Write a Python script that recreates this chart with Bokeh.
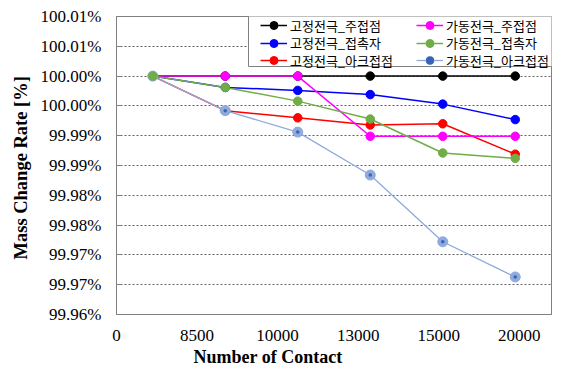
from bokeh.plotting import figure
from bokeh.models import Range1d, FixedTicker, Legend, LegendItem, Title, BoxAnnotation
from bokeh.embed import file_html
from bokeh.resources import INLINE

# ---- data ----
contacts = ["0", "8500", "10000", "13000", "15000", "20000"]
series_names = ["고정전극_주접점", "고정전극_접촉자", "고정전극_아크접점",
                "가동전극_주접점", "가동전극_접촉자", "가동전극_아크접점"]
fixed_main = [100.000, 100.000, 100.000, 100.000, 100.000, 100.000]
fixed_contactor = [100.000, 99.9981, 99.9976, 99.9969, 99.9953, 99.9927]
fixed_arc = [100.000, 99.9942, 99.9930, 99.9918, 99.9920, 99.9869]
moving_main = [100.000, 100.000, 100.000, 99.9899, 99.9899, 99.9899]
moving_contactor = [100.000, 99.9981, 99.9958, 99.9928, 99.9871, 99.9862]
moving_arc = [100.000, 99.9942, 99.9906, 99.9834, 99.9722, 99.9663]
y_tick_labels = ["99.96%", "99.97%", "99.97%", "99.98%", "99.98%", "99.99%",
                 "99.99%", "100.00%", "100.00%", "100.01%", "100.01%"]

# category positions (points sit in the middle of each category slot)
xs = [i + 0.5 for i in range(len(contacts))]
x_ticks = [i * 10 / 9 for i in range(len(contacts))]
y_ticks = [round(99.96 + 0.005 * i, 3) for i in range(len(y_tick_labels))]

SERIF = "Liberation Serif"
KR = "Noto Sans CJK KR"
GRAY = "#808080"

p = figure(width=566, height=380, output_backend="svg", toolbar_location=None,
           x_range=Range1d(0, 6), y_range=Range1d(99.96, 100.01),
           min_border_left=116, min_border_right=15, min_border_top=16, min_border_bottom=66)
p.background_fill_color = "white"
p.border_fill_color = "white"
p.outline_line_color = GRAY
p.outline_line_width = 1

# grids
p.xgrid.grid_line_color = None
p.ygrid.ticker = FixedTicker(ticks=y_ticks)
p.ygrid.grid_line_color = "#606060"
p.ygrid.grid_line_dash = "2 2"
p.ygrid.grid_line_width = 1

# axes
p.xaxis.ticker = FixedTicker(ticks=x_ticks)
p.xaxis.major_label_overrides = {t: lab for t, lab in zip(x_ticks, contacts)}
p.xaxis.major_tick_line_color = None
p.xaxis.minor_tick_line_color = None
p.xaxis.axis_line_color = GRAY
p.xaxis.major_label_text_font = SERIF
p.xaxis.major_label_text_font_size = "17px"
p.xaxis.major_label_text_color = "#000000"
p.xaxis.major_label_standoff = 9

p.yaxis.ticker = FixedTicker(ticks=y_ticks)
p.yaxis.major_label_overrides = {t: lab for t, lab in zip(y_ticks, y_tick_labels)}
p.yaxis.major_tick_in = 5
p.yaxis.major_tick_out = 0
p.yaxis.major_tick_line_color = GRAY
p.yaxis.minor_tick_line_color = None
p.yaxis.axis_line_color = GRAY
p.yaxis.major_label_text_font = SERIF
p.yaxis.major_label_text_font_size = "17px"
p.yaxis.major_label_text_color = "#000000"
p.yaxis.major_label_standoff = 15
p.yaxis.axis_label = "Mass Change Rate  [%]"
p.yaxis.axis_label_text_font = SERIF
p.yaxis.axis_label_text_font_size = "18.5px"
p.yaxis.axis_label_text_font_style = "bold"
p.yaxis.axis_label_text_color = "#000000"
p.yaxis.axis_label_standoff = 7

p.add_layout(Title(text="Number of Contact", align="left", offset=77, standoff=2,
                   text_font=SERIF, text_font_size="18px", text_font_style="bold",
                   text_color="#000000"), "below")

series = [fixed_main, fixed_contactor, fixed_arc, moving_main, moving_contactor, moving_arc]
colors = ["#000000", "#0000FF", "#FF0000", "#FF00FF", "#70AD47", "#8FAADC"]
widths = [1.5, 1.5, 1.5, 1.5, 1.5, 1.3]

lines = []
for vals, c, w in zip(series, colors, widths):
    lines.append(p.line(xs, vals, line_color=c, line_width=w))

marks = [None] * 6
for idx in [0, 1, 2, 3, 5, 4]:
    vals = series[idx]
    if idx == 5:
        outer = p.scatter(xs, vals, size=10, fill_color="#8FAADC", line_color="#8FAADC",
                          line_width=1)
        inner = p.scatter(xs, vals, size=3.5, fill_color="#3A62B8", line_color=None)
        marks[idx] = [outer, inner]
    else:
        m = p.scatter(xs, vals, size=8.5, fill_color=colors[idx], line_color=colors[idx])
        marks[idx] = [m]

# legend frame (canvas pixel units)
box = BoxAnnotation(left=248, right=552, top=15, bottom=66,
                    left_units="canvas", right_units="canvas",
                    top_units="canvas", bottom_units="canvas",
                    fill_color="white", fill_alpha=1,
                    line_color=GRAY, line_width=1, line_alpha=1)
p.add_layout(box)

# one small legend per entry: 2 columns x 3 rows
ROW_H = 20
for i in range(6):
    col, row = divmod(i, 3)
    row_center = 25 + row * 17.5          # canvas y of the row centre
    vx = (144, 300)[col]                  # offset from frame left
    vy = 314 - row_center - ROW_H / 2 - 16 + 16  # frame bottom is at canvas y 314
    item = LegendItem(label=series_names[i], renderers=[lines[i]] + marks[i])
    lg = Legend(items=[item], location=(vx, vy), margin=0, padding=0, spacing=0,
                glyph_width=27, glyph_height=ROW_H, label_height=ROW_H, label_standoff=3,
                label_width=20,
                label_text_font=KR, label_text_font_size="13px", label_text_color="#000000",
                border_line_color=None, background_fill_alpha=0)
    p.add_layout(lg, "center")

open("out.html", "w").write(file_html(p, INLINE))
